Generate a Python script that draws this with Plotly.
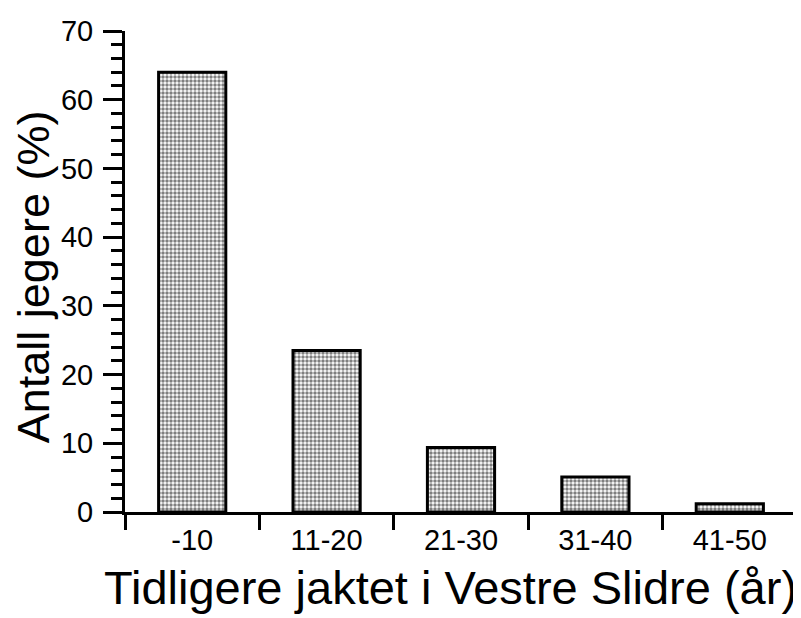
import plotly.graph_objects as go

# Antall jegere etter hvor lenge de tidligere har jaktet i Vestre Slidre
categories = ["-10", "11-20", "21-30", "31-40", "41-50"]
percent = [64, 23.5, 9.4, 5.1, 1.2]
y_ticks = [0, 10, 20, 30, 40, 50, 60, 70]

FONT = "Liberation Sans, Arial, sans-serif"

fig = go.Figure()
fig.add_trace(go.Bar(
    x=categories, y=percent, width=0.5,
    marker=dict(color="white",
                line=dict(color="black", width=3),
                pattern=dict(shape=".", fgcolor="black", bgcolor="white",
                             size=4, solidity=0.6)),
    showlegend=False))

# Siden vises med 8 px kant i nettleseren, derfor er margene forskjøvet
fig.update_layout(
    width=801, height=618,
    margin=dict(l=117, r=12, t=23, b=114),
    plot_bgcolor="white", paper_bgcolor="white",
    font=dict(family=FONT, color="black"),
    xaxis=dict(type="category", range=[-0.5, 4.5], automargin=False,
               tickson="boundaries", ticks="outside", ticklen=15,
               tickwidth=3, tickcolor="black",
               showline=True, linecolor="black", linewidth=3,
               showgrid=False, zeroline=False,
               tickfont=dict(size=29)),
    yaxis=dict(range=[0, 70], tickvals=y_ticks, automargin=False,
               ticks="outside", ticklen=19, tickwidth=3, tickcolor="black",
               showline=True, linecolor="black", linewidth=3,
               showgrid=False, zeroline=False,
               tickfont=dict(size=29), ticklabelstandoff=4,
               minor=dict(dtick=2, ticks="outside", ticklen=11,
                          tickwidth=3, tickcolor="black", showgrid=False)))

# Aksetitler som annotasjoner for å styre plasseringen nøyaktig
fig.add_annotation(text="Antall jegere (%)", textangle=-90,
                   xref="paper", yref="paper", x=-0.137, y=0.49,
                   xanchor="center", yanchor="middle", showarrow=False,
                   font=dict(size=45))
fig.add_annotation(text="Tidligere jaktet i Vestre Slidre (år)",
                   xref="paper", yref="paper", x=0.484, y=-0.158,
                   xanchor="center", yanchor="middle", showarrow=False,
                   font=dict(size=47))

fig.write_html("out.html")
